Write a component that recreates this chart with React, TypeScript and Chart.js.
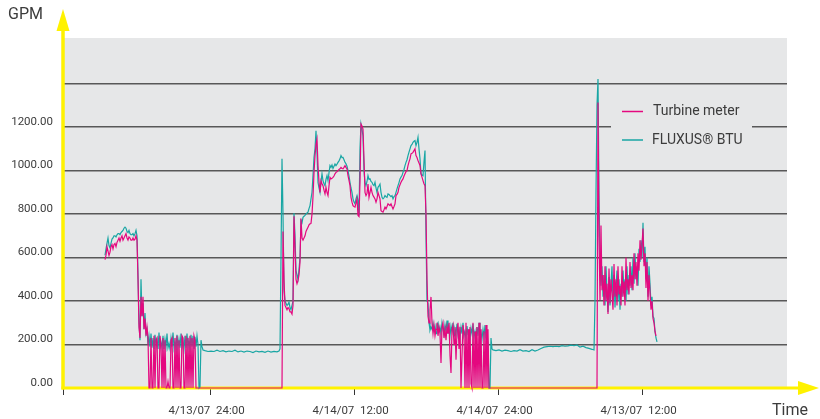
import React, { useEffect, useRef } from 'react';
import { Chart, registerables } from 'chart.js';

Chart.register(...registerables);

// ---- Axis ticks (x in minutes) ----
const X_MIN = -18;
const X_MAX = 3602;
const X_TICKS = [-18, 720, 1440, 2160, 2880];
const X_TICK_LABELS = ['', '4/13/07  24:00', '4/14/07  12:00', '4/14/07  24:00', '4/13/07  12:00'];
const Y_MAX = 1610;
const Y_TICKS = [0, 200, 400, 600, 800, 1000, 1200, 1400];
const Y_TICK_LABELS = ['0.00', '200.00', '400.00', '600.00', '800.00', '1000.00', '1200.00', ''];
const SERIES_NAMES = ['Turbine meter', 'FLUXUS® BTU'];
const Y_TITLE = 'GPM';
const X_TITLE = 'Time';

// ---- Turbine meter (GPM), sampled every 5 min, in runs ----
const turbineRun1Start = 192;
const turbineRun1 = [
  590, 610, 650, 630, 610, 625, 650, 660, 640, 660,
  665, 650, 670, 680, 690, 675, 690, 700, 680, 690,
  700, 710, 690, 680, 695, 690, 680, 680, 690, 680,
  685, 700, 680, 500, 280, 230, 420, 330, 420, 270,
  320, 240, 280, 230, 0, 0, 230, 0, 0, 240,
  0, 220, 230, 0, 0, 240, 200, 0, 230, 0,
  220, 0, 0, 30, 0, 0, 220, 230, 0, 0,
  230, 0, 240, 0, 220, 0, 0, 240, 230, 0,
  0, 240, 0, 230, 0, 240, 0, 230, 0, 240,
  220, 0, 0,
];
const turbineRun2Start = 1077;
const turbineRun2 = [
  0, 720, 500, 380, 370, 360, 370, 365, 350, 350,
  340, 380, 790, 650, 500, 480, 495, 520, 580, 780,
  690, 680, 690, 700, 720, 730, 740, 750, 755, 757,
  800, 880, 990, 1069, 1120, 1145, 1023, 950, 900, 954,
  940, 931, 910, 893, 923, 900, 885, 930, 969, 962,
  965, 969, 975, 985, 992, 995, 1000, 1005, 1008, 1015,
  1010, 1008, 1015, 1023, 1015, 1008, 977, 955, 931, 877,
  855, 839, 835, 832, 850, 870, 794, 789, 950, 1214,
  1205, 1191, 1050, 900, 885, 895, 938, 877, 900, 923,
  900, 885, 878, 870, 855, 870, 900, 885, 870, 816,
  812, 809, 820, 832, 824, 835, 847, 843, 839, 847,
  835, 824, 835, 847, 885, 890, 900, 923, 935, 946,
  955, 962, 975, 985, 995, 1000, 1023, 1040, 1054, 1077,
  1080, 1084, 1092, 1100, 1069, 1060, 1046, 1035, 1023, 985,
  970, 954, 940, 931, 800, 500, 330, 300, 360, 419,
  300, 250, 290, 240, 270, 300, 240, 280, 250, 115,
  280, 300, 230, 270, 220, 280, 250, 300, 150, 69,
  270, 290, 200, 280, 130, 260, 300, 180, 280, 0,
  0, 290, 250, 0, 300, 0, 270, 0, 280, 20,
  0, 300, 0, 260, 0, 280, 0, 300, 0, 270,
  0, 0, 260, 0, 290, 0, 270, 0, 0,
];
const turbineRun3Start = 2652;
const turbineRun3 = [
  0, 1313, 700, 404, 748, 450, 520, 380, 560, 400,
  480, 340, 550, 390, 500, 430, 360, 570, 420, 500,
  380, 560, 430, 470, 380, 560, 420, 490, 380, 600,
  450, 500, 430, 580, 460, 520, 450, 620, 500, 580,
  470, 620, 540, 680, 590, 660, 734, 560, 620, 460,
  580, 400, 520, 440, 360, 400, 320, 300, 260, 240,
];

// ---- FLUXUS BTU (GPM) ----
const fluxusRun1Start = 192;
const fluxusRun1 = [
  610, 640, 665, 690, 655, 645, 665, 685, 690, 700,
  700, 695, 705, 710, 710, 705, 715, 720, 725, 735,
  740, 735, 720, 715, 725, 710, 705, 705, 710, 700,
  710, 725, 700, 520, 300, 220, 500, 330, 390, 270,
  345, 250, 270, 200, 240, 190, 250, 185, 230, 180,
  245, 195, 220, 180, 255, 190, 210, 185, 240, 180,
  225, 190, 250, 185, 205, 180, 230, 190, 255, 185,
  215, 180, 245, 190, 225, 185, 250, 190, 215, 180,
  240, 185, 250, 190, 220, 185, 245, 190, 240, 180,
  235, 190, 240, 200, 0, 5, 220, 190, 175,
];
const fluxusRun2Start = 692; // 15-min samples
const fluxusRun2 = [
  172, 168, 170, 168, 174, 168, 172, 166, 170, 168,
  174, 166, 170, 165, 170, 168, 163, 170, 166, 168,
  164, 170, 165, 168, 166,
];
const fluxusRun3Start = 1062;
const fluxusRun3 = [
  170, 180, 600, 1055, 800, 450, 400, 390, 380, 385,
  395, 370, 360, 380, 400, 805, 700, 540, 520, 500,
  545, 600, 770, 760, 785, 790, 794, 800, 805, 809,
  825, 839, 870, 900, 977, 1060, 1100, 1183, 1080, 946,
  920, 900, 950, 985, 954, 940, 931, 960, 977, 954,
  990, 1023, 1015, 1026, 1010, 1020, 1030, 1023, 1030, 1038,
  1045, 1054, 1069, 1060, 1061, 1050, 1038, 1031, 1020, 1000,
  975, 946, 920, 900, 870, 855, 847, 870, 885, 862,
  794, 1100, 1214, 1190, 1160, 1000, 946, 931, 950, 977,
  960, 962, 950, 946, 935, 931, 946, 920, 900, 923,
  930, 938, 900, 877, 870, 875, 885, 880, 877, 893,
  890, 885, 880, 885, 870, 880, 885, 900, 916, 931,
  945, 962, 970, 977, 992, 1005, 1023, 1038, 1050, 1069,
  1085, 1100, 1115, 1120, 1130, 1135, 1138, 1115, 1130, 1153,
  1100, 1054, 985, 980, 977, 1040, 1092, 700, 400, 390,
  300, 266, 280, 270, 300, 265, 285, 250, 290, 300,
  260, 280, 250, 300, 270, 245, 290, 260, 310, 250,
  280, 240, 285, 260, 300, 240, 270, 250, 295, 245,
  270, 235, 280, 250, 300, 240, 260, 230, 285, 245,
  270, 230, 275, 250, 295, 235, 260, 225, 280, 240,
  300, 230, 255, 225, 270, 235, 290, 230, 260, 200,
  0, 0, 230, 180, 175,
];
const fluxusRun4Start = 2147; // 15-min samples
const fluxusRun4 = [
  172, 175, 170, 174, 172, 168, 172, 170, 176, 170,
  172, 168, 176, 170, 175, 182, 188, 190, 192, 190,
  192, 190, 195, 192, 194, 197, 195, 198, 188, 192,
  186, 182, 178,
];
const fluxusRun5Start = 2637;
const fluxusRun5 = [
  175, 400, 900, 1300, 1421, 900, 580, 470, 560, 420,
  520, 380, 560, 440, 350, 510, 380, 480, 560, 400,
  520, 370, 470, 540, 400, 500, 360, 480, 420, 540,
  440, 500, 400, 560, 430, 520, 470, 560, 450, 600,
  480, 620, 500, 560, 470, 640, 580, 680, 600, 760,
  580, 650, 500, 600, 420, 560, 480, 380, 420, 330,
  320, 260, 230, 212,
];

const expand = (start: number, step: number, values: number[]) =>
  values.map((v, i) => ({ x: start + i * step, y: v }));

const MAGENTA = '#e4087f';
const TEAL = '#19a6a4';
const YELLOW = '#fff200';
const BG = '#e6e7e8';
const GRID = '#585858';
const TEXT = '#3c3c3c';
const FONT = 'Roboto, "DejaVu Sans", sans-serif';

export default function App() {
  const ref = useRef<HTMLCanvasElement | null>(null);

  useEffect(() => {
    document.body.style.margin = '0';
    const canvas = ref.current;
    if (!canvas) return;

    const turbine = [
      ...expand(turbineRun1Start, 5, turbineRun1),
      ...expand(turbineRun2Start, 5, turbineRun2),
      ...expand(turbineRun3Start, 5, turbineRun3),
    ];
    const fluxus = [
      ...expand(fluxusRun1Start, 5, fluxusRun1),
      ...expand(fluxusRun2Start, 15, fluxusRun2),
      ...expand(fluxusRun3Start, 5, fluxusRun3),
      ...expand(fluxusRun4Start, 15, fluxusRun4),
      ...expand(fluxusRun5Start, 5, fluxusRun5),
    ];

    const decor = {
      id: 'decor',
      beforeDraw(chart: any) {
        const { ctx, chartArea: a } = chart;
        ctx.save();
        ctx.fillStyle = BG;
        ctx.fillRect(a.left, a.top, a.right - a.left, a.bottom - a.top);
        ctx.restore();
      },
      beforeDatasetsDraw(chart: any) {
        const { ctx, chartArea: a } = chart;
        ctx.save();
        ctx.strokeStyle = YELLOW;
        ctx.fillStyle = YELLOW;
        ctx.lineWidth = 3.5;
        // y axis
        ctx.beginPath();
        ctx.moveTo(a.left, a.bottom + 1.5);
        ctx.lineTo(a.left, 28);
        ctx.stroke();
        ctx.beginPath();
        ctx.moveTo(a.left, 9);
        ctx.lineTo(a.left - 6.5, 31);
        ctx.lineTo(a.left + 6.5, 31);
        ctx.closePath();
        ctx.fill();
        // x axis
        ctx.lineWidth = 3;
        ctx.beginPath();
        ctx.moveTo(a.left - 1.5, a.bottom);
        ctx.lineTo(802, a.bottom);
        ctx.stroke();
        ctx.beginPath();
        ctx.moveTo(819, a.bottom);
        ctx.lineTo(798, a.bottom - 7);
        ctx.lineTo(798, a.bottom + 7);
        ctx.closePath();
        ctx.fill();
        ctx.restore();
      },
      afterDatasetsDraw(chart: any) {
        const { ctx } = chart;
        ctx.save();
        // legend panel
        ctx.fillStyle = BG;
        ctx.fillRect(611, 96, 141, 58);
        ctx.lineWidth = 1.5;
        ctx.strokeStyle = MAGENTA;
        ctx.beginPath();
        ctx.moveTo(622, 111.5);
        ctx.lineTo(643, 111.5);
        ctx.stroke();
        ctx.strokeStyle = TEAL;
        ctx.beginPath();
        ctx.moveTo(622, 140);
        ctx.lineTo(643, 140);
        ctx.stroke();
        ctx.fillStyle = TEXT;
        ctx.font = `14px ${FONT}`;
        ctx.textBaseline = 'middle';
        ctx.textAlign = 'left';
        ctx.fillText(SERIES_NAMES[0], 653, 111);
        ctx.fillText(SERIES_NAMES[1], 652, 140);
        // titles
        ctx.font = `16px ${FONT}`;
        ctx.fillText(Y_TITLE, 8, 15);
        ctx.fillText(X_TITLE, 772, 411);
        ctx.restore();
      },
    };

    const chart = new Chart(canvas, {
      type: 'line',
      data: {
        datasets: [
          {
            label: SERIES_NAMES[0],
            data: turbine,
            borderColor: MAGENTA,
            borderWidth: 1.2,
            pointRadius: 0,
            tension: 0,
            clip: false,
          },
          {
            label: SERIES_NAMES[1],
            data: fluxus,
            borderColor: TEAL,
            borderWidth: 1.2,
            pointRadius: 0,
            tension: 0,
            clip: false,
          },
        ],
      },
      options: {
        responsive: false,
        animation: false,
        devicePixelRatio: 1,
        layout: { padding: { top: 38, right: 33, left: 0, bottom: 0 } },
        plugins: { legend: { display: false }, tooltip: { enabled: false } },
        scales: {
          x: {
            type: 'linear',
            min: X_MIN,
            max: X_MAX,
            afterBuildTicks: (s: any) => {
              s.ticks = X_TICKS.map((v) => ({ value: v }));
            },
            afterFit: (s: any) => {
              s.height = 31;
            },
            ticks: {
              autoSkip: false,
              maxRotation: 0,
              padding: 9,
              labelOffset: -4,
              color: TEXT,
              font: { family: FONT, size: 11.5 },
              callback: (_v: any, i: number) => X_TICK_LABELS[i],
            },
            grid: {
              display: true,
              drawOnChartArea: false,
              drawTicks: true,
              tickLength: 7,
              color: '#333',
              lineWidth: 1,
            },
            border: { display: false },
          },
          y: {
            type: 'linear',
            min: 0,
            max: Y_MAX,
            afterBuildTicks: (s: any) => {
              s.ticks = Y_TICKS.map((v) => ({ value: v }));
            },
            afterFit: (s: any) => {
              s.width = 63;
            },
            ticks: {
              padding: 10,
              labelOffset: -5,
              color: TEXT,
              font: { family: FONT, size: 11.5 },
              callback: (_v: any, i: number) => Y_TICK_LABELS[i],
            },
            grid: {
              drawTicks: false,
              lineWidth: 1.5,
              color: (c: any) => (c.tick && c.tick.value === 0 ? 'rgba(0,0,0,0)' : GRID),
            },
            border: { display: false },
          },
        },
      },
      plugins: [decor],
    } as any);

    return () => chart.destroy();
  }, []);

  return (
    <div style={{ width: 820, height: 419, position: 'relative' }}>
      <canvas ref={ref} width={820} height={419} style={{ display: 'block' }} />
    </div>
  );
}
